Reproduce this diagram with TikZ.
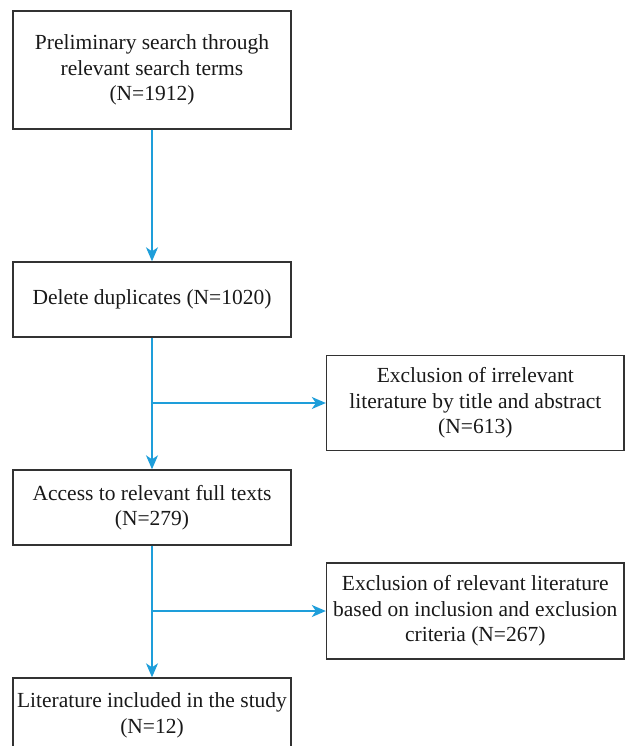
\documentclass[tikz,border=0pt]{standalone}
\usepackage{fontspec}
\setmainfont{Liberation Serif}
\usetikzlibrary{arrows.meta}
\definecolor{flowblue}{RGB}{30,158,218}
\definecolor{boxgray}{RGB}{50,50,50}
\tikzset{
  box/.style={draw=boxgray, line width=1.4pt, align=center, inner sep=0pt,
    font=\fontsize{21.5}{25.5}\selectfont, text=black!90},
  flow/.style={draw=flowblue, line width=1.5pt, -{Stealth[length=14pt,width=12pt,inset=4pt]}},
}
\begin{document}
\begin{tikzpicture}[x=1pt,y=-1pt]
\useasboundingbox (0,0) rectangle (625,746);
\clip (0,0) rectangle (625,746);
\node[box, minimum width=278pt, minimum height=118pt] (n1) at (152,70)
  {Preliminary search through\\relevant search terms\\(N=1912)};
\node[box, minimum width=278pt, minimum height=75pt] (n2) at (152,299.5)
  {Delete duplicates (N=1020)};
\node[box, minimum width=297.5pt, minimum height=95.5pt] (r1) at (475.3,403)
  {Exclusion of irrelevant\\literature by title and abstract\\(N=613)};
\node[box, minimum width=278pt, minimum height=75pt] (n3) at (152,507.5)
  {Access to relevant full texts\\(N=279)};
\node[box, minimum width=297.5pt, minimum height=96pt] (r2) at (475.3,611)
  {Exclusion of relevant literature\\based on inclusion and exclusion\\criteria (N=267)};
\node[box, minimum width=278pt, minimum height=75pt] (n4) at (152,715.5)
  {Literature included in the study\\(N=12)};
\draw[flow] (n1.south) -- (n2.north);
\draw[flow] (n2.south) -- (n3.north);
\draw[flow] (n3.south) -- (n4.north);
\coordinate (b1) at (n2.south |- r1.west);
\coordinate (b2) at (n3.south |- r2.west);
\draw[flow] (b1) -- (r1.west);
\draw[flow] (b2) -- (r2.west);
\end{tikzpicture}
\end{document}
